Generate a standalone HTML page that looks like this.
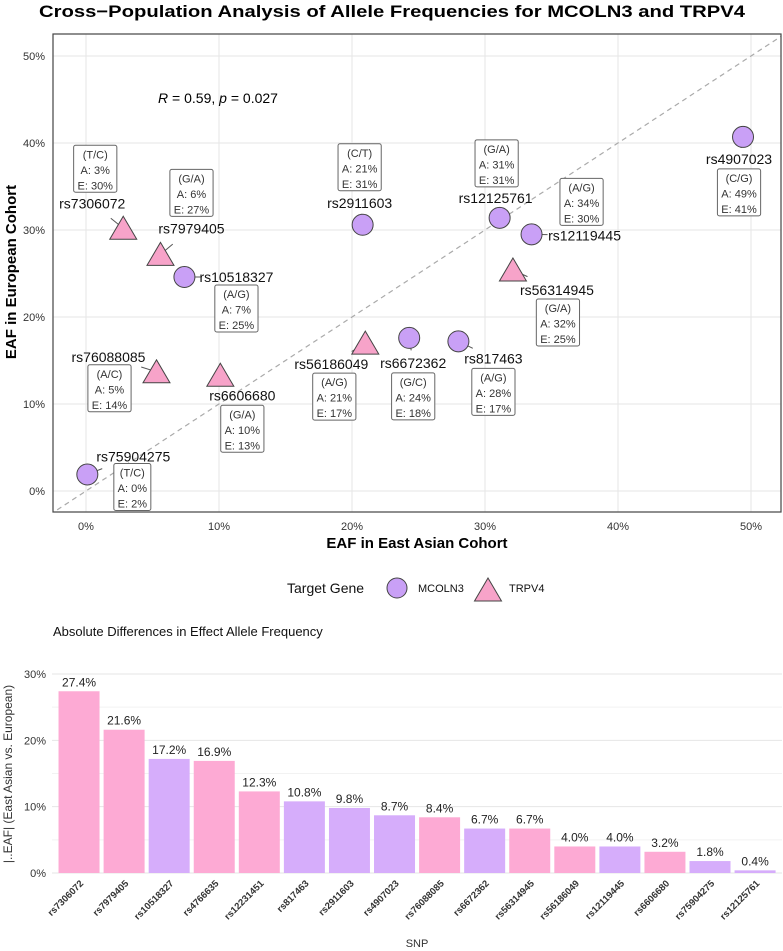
<!DOCTYPE html>
<html><head><meta charset="utf-8">
<style>
html,body{margin:0;padding:0;background:#fff;}
svg{display:block;font-family:"Liberation Sans",Arial,sans-serif;}
</style></head>
<body>
<svg id="chart" width="783" height="951" viewBox="0 0 783 951" xmlns="http://www.w3.org/2000/svg">
<text x="392" y="17" text-anchor="middle" font-size="17" font-weight="bold" fill="#000" textLength="706" lengthAdjust="spacingAndGlyphs">Cross−Population Analysis of Allele Frequencies for MCOLN3 and TRPV4</text>
<g id="scatter"></g>
<g id="bars"></g>
</svg>
<script>
// ---------- Scatter data ----------
const snpNames = ["rs7306072","rs7979405","rs10518327","rs2911603","rs12125761","rs12119445","rs4907023","rs56314945","rs817463","rs6672362","rs56186049","rs76088085","rs6606680","rs75904275"];
const eafAsian = [2.8,5.6,7.4,20.8,31.1,33.5,49.4,32.1,28.0,24.3,21.0,5.3,10.1,0.1];
const eafEuropean = [30.2,27.2,24.6,30.6,31.4,29.5,40.7,25.4,17.2,17.6,17.0,13.7,13.3,1.9];
const alleles = ["T/C","G/A","A/G","C/T","G/A","A/G","C/G","G/A","A/G","G/C","A/G","A/C","G/A","T/C"];
const genes = ["TRPV4","TRPV4","MCOLN3","MCOLN3","MCOLN3","MCOLN3","MCOLN3","TRPV4","MCOLN3","MCOLN3","TRPV4","TRPV4","TRPV4","MCOLN3"];
const xTicks = [0,10,20,30,40,50];
const yTicks = [0,10,20,30,40,50];
// ---------- Bar data ----------
const barSnps = ["rs7306072","rs7979405","rs10518327","rs4766635","rs12231451","rs817463","rs2911603","rs4907023","rs76088085","rs6672362","rs56314945","rs56186049","rs12119445","rs6606680","rs75904275","rs12125761"];
const barDiffs = [27.4,21.6,17.2,16.9,12.3,10.8,9.8,8.7,8.4,6.7,6.7,4.0,4.0,3.2,1.8,0.4];
const barGenes = ["TRPV4","TRPV4","MCOLN3","TRPV4","TRPV4","MCOLN3","MCOLN3","MCOLN3","TRPV4","MCOLN3","TRPV4","TRPV4","MCOLN3","TRPV4","MCOLN3","MCOLN3"];
const barTicks = [0,10,20,30];

// label layout offsets (layout, not data): [nameDx,nameDy,boxDx,boxDy]
const labelLayout = [[-31,-25,-28,-83],[31,-26,31,-85],[52,0,52,8],[-3,-22,-3,-81],[-4,-20,-3,-78],[53,1,50,-56],[-4,22,-4,32],[44,20,45,29],[35,17,35,27],[4,25,4,35],[-34,21,-31,30],[-48,-15,-47,-7],[22,20,22,30],[46,-18,45,-11]];

const NS="http://www.w3.org/2000/svg";
function mk(tag,attrs,parent,text){const e=document.createElementNS(NS,tag);for(const k in attrs)e.setAttribute(k,attrs[k]);if(text!==undefined)e.textContent=text;parent.appendChild(e);return e;}

// scatter axes
const PL=53,PT=34,PR=781,PB=512;
const sx=v=>86+v*13.3;
const sy=v=>491-v*8.7;
const sc=document.getElementById('scatter');
xTicks.forEach(t=>{const l=mk('line',{x1:sx(t),x2:sx(t),y1:PT,y2:PB,stroke:'#e6e6e6','stroke-width':1},sc);


const tx=mk('text',{x:sx(t),y:530,'text-anchor':'middle','font-size':11,fill:'#333'},sc,t+'%');

});
yTicks.forEach(t=>{const l=mk('line',{x1:PL,x2:PR,y1:sy(t),y2:sy(t),stroke:'#e6e6e6','stroke-width':1},sc);


const tx=mk('text',{x:45,y:sy(t)+4,'text-anchor':'end','font-size':11,fill:'#333'},sc,t+'%');

});
// diagonal y=x
const cp=mk('clipPath',{id:'pclip'},sc);mk('rect',{x:PL,y:PT,width:PR-PL,height:PB-PT},cp);
const vmin=-5,vmax=60;
const diag=mk('line',{x1:sx(vmin),y1:sy(vmin),x2:sx(vmax),y2:sy(vmax),stroke:'#aaa','stroke-width':1.2,'stroke-dasharray':'5,4','clip-path':'url(#pclip)'},sc);


const border=mk('rect',{x:PL,y:PT,width:PR-PL,height:PB-PT,fill:'none',stroke:'#444','stroke-width':1.2},sc);


// stats
const st=mk('text',{x:218,y:103,'text-anchor':'middle','font-size':14,fill:'#000'},sc);


st.innerHTML='<tspan font-style="italic">R</tspan> = 0.59, <tspan font-style="italic">p</tspan> = 0.027';
// axis titles
const xt=mk('text',{x:417,y:548,'text-anchor':'middle','font-size':15,'font-weight':'bold',fill:'#000'},sc,'EAF in East Asian Cohort');


const yt=mk('text',{x:0,y:0,'text-anchor':'middle','font-size':15,'font-weight':'bold',fill:'#000',transform:'translate(16,272) rotate(-90)'},sc,'EAF in European Cohort');



const CIRC='#c9a0f6',TRI='#f7a3c9';
function triPts(cx,cy,s){return `${cx},${cy-12*s} ${cx+13.5*s},${cy+11*s} ${cx-13.5*s},${cy+11*s}`;}
snpNames.forEach((n,i)=>{
  const px=sx(eafAsian[i]),py=sy(eafEuropean[i]);const L=labelLayout[i];
  const nx=px+L[0],ny=py+L[1];const dx=nx-px,dy=ny-py,d=Math.hypot(dx,dy);
  const ld=mk('line',{x1:px,y1:py,x2:px+dx/d*Math.min(16,d*0.5),y2:py+dy/d*Math.min(16,d*0.5),stroke:'#555','stroke-width':1},sc);
  
  
  let m;
  if(genes[i]==='MCOLN3'){m=mk('circle',{cx:px,cy:py,r:10.5,fill:CIRC,stroke:'#444','stroke-width':1},sc);}
  else{m=mk('polygon',{points:triPts(px,py,1),fill:TRI,stroke:'#444','stroke-width':1},sc);}
  
  
  const nt=mk('text',{x:nx,y:ny+5,'text-anchor':'middle','font-size':14,fill:'#111'},sc,n);
  
  
  const bx=px+L[2],by=py+L[3];
  const a='A: '+Math.round(eafAsian[i])+'%',e='E: '+Math.round(eafEuropean[i])+'%';
  const w=Math.max(a.length,e.length)*6.2+6;
  const br=mk('rect',{x:bx-w/2,y:by,width:w,height:47,rx:2,fill:'#fff',stroke:'#666','stroke-width':1},sc);
  
  
  [ '('+alleles[i]+')',a,e].forEach((s,k)=>{const t=mk('text',{x:bx,y:by+13+k*15.5,'text-anchor':'middle','font-size':11,fill:'#333'},sc,s);
  
  });
});
// legend
const lg=mk('g',{},sc);


const lt=mk('text',{x:287,y:593,'font-size':14,fill:'#111'},lg,'Target Gene');


const lc=mk('circle',{cx:397,cy:588,r:10,fill:CIRC,stroke:'#444','stroke-width':1},lg);


const l1=mk('text',{x:418,y:592,'font-size':11,fill:'#111'},lg,'MCOLN3');


const ltr=mk('polygon',{points:triPts(488,590,1),fill:TRI,stroke:'#444','stroke-width':1},lg);


const l2=mk('text',{x:509,y:592,'font-size':11,fill:'#111'},lg,'TRPV4');



// ---------- bar chart ----------
const bg=document.getElementById('bars');
const by0=873,bpx=6.633;
const bY=v=>by0-v*bpx;
const bandStart=56.5,step=45.07,bw=41;
const bX=i=>bandStart+i*step+(step-bw)/2;
const bt=mk('text',{x:53,y:636,'font-size':13,fill:'#111'},bg,'Absolute Differences in Effect Allele Frequency');


[5,15,25].forEach(t=>{const l=mk('line',{x1:52,x2:782,y1:bY(t),y2:bY(t),stroke:'#f2f2f2','stroke-width':1},bg);

});
barTicks.forEach(t=>{const l=mk('line',{x1:52,x2:782,y1:bY(t),y2:bY(t),stroke:'#e6e6e6','stroke-width':1},bg);


const tx=mk('text',{x:46,y:bY(t)+4,'text-anchor':'end','font-size':11,fill:'#333'},bg,t+'%');

});
barSnps.forEach((n,i)=>{
  const v=barDiffs[i];const x=bX(i);
  const r=mk('rect',{x:x,y:bY(v),width:bw,height:by0-bY(v),fill:barGenes[i]==='TRPV4'?'#fdaad4':'#d6adfb'},bg);
  
  
  const vt=mk('text',{x:x+bw/2,y:bY(v)-5,'text-anchor':'middle','font-size':12,fill:'#222'},bg,v.toFixed(1)+'%');
  
  
  const cx=x+bw/2+5;
  const lt=mk('text',{x:cx,y:884,'text-anchor':'end','font-size':9.5,'font-weight':'bold',fill:'#333',transform:`rotate(-45 ${cx} 884)`},bg,n);
  
  
});
const byt=mk('text',{x:0,y:0,'text-anchor':'middle','font-size':12,fill:'#333',transform:'translate(12,774) rotate(-90)'},bg,'|..EAF| (East Asian vs. European)');


const bxt=mk('text',{x:417,y:947,'text-anchor':'middle','font-size':11,fill:'#333'},bg,'SNP');


</script>
</body></html>
